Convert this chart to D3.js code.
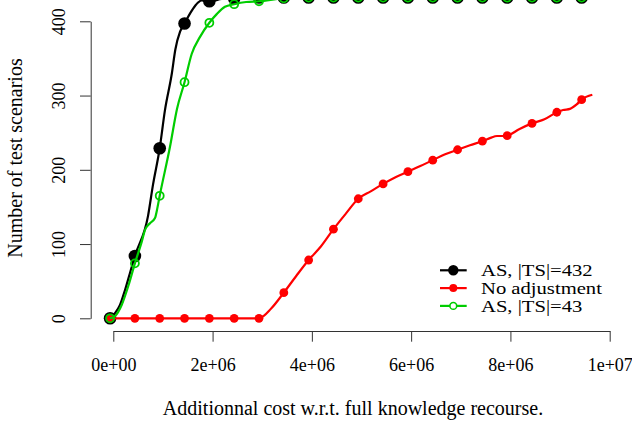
<!DOCTYPE html>
<html>
<head>
<meta charset="utf-8">
<script src="https://cdn.jsdelivr.net/npm/d3@7"></script>
<style>
  html, body { margin: 0; padding: 0; background: #fff; }
  svg { display: block; }
  text { font-family: "Liberation Serif", "Times New Roman", serif; fill: #000; }
</style>
</head>
<body>
<svg id="chart" width="632" height="421"></svg>
<script>
// ---------- data ----------
const markerX = [-65000, 435000, 935000, 1435000, 1935000, 2435000, 2935000, 3435000, 3935000, 4435000,
                 4935000, 5435000, 5935000, 6435000, 6935000, 7435000, 7935000, 8435000, 8935000, 9435000];
const blackPts = [0, 84, 229, 397, 427, 431, 432, 432, 432, 432, 432, 432, 432, 432, 432, 432, 432, 432, 432, 432];
const redPts   = [0, 0, 0, 0, 0, 0, 0, 34.5, 78.5, 120, 161, 181, 197.5, 213, 227, 238.5, 246, 262.5, 277.5, 294.5];
const greenPts = [0, 74, 165, 318, 398, 423, 427, 431, 432, 432, 432, 432, 432, 432, 432, 432, 432, 432, 432, 432];

// smoothed curves (denser than the markers)
const blackLineX = [-65000, 34000, 135000, 236000, 336000, 435000, 700000, 800000, 935000, 1040000, 1180000,
                    1250000, 1345000, 1435000, 1550000, 1650000, 1780000, 1935000, 2185000, 2435000, 2935000, 9650000];
const blackLineY = [0, 7, 18, 38, 61, 84, 138, 180, 229, 280, 330,
                    362, 386, 397, 411, 421, 428, 427, 430, 431, 432, 432];

const redLineX = [-65000, 2935000, 3185000, 3435000, 3685000, 3935000, 4185000, 4435000, 4685000, 4935000,
                  5185000, 5435000, 5685000, 5935000, 6185000, 6435000, 6685000, 6935000, 7185000, 7435000,
                  7600000, 7730000, 7860000, 7935000, 8185000, 8435000, 8685000, 8935000, 9060000, 9200000,
                  9335000, 9435000, 9650000];
const redLineY = [0, 0, 13.5, 34.5, 57, 78.5, 97, 120, 141, 161,
                  171, 181, 190, 197.5, 205, 213, 221, 227, 233, 238.5,
                  243, 245.5, 245.5, 246, 255, 262.5, 268, 277.5, 280.5, 282,
                  288, 294.5, 301];

const greenLineX = [-65000, 34000, 169000, 302000, 435000, 572000, 639000, 739000, 840000, 880000, 935000,
                    1142000, 1283000, 1435000, 1579000, 1747000, 1935000, 2088000, 2249000, 2435000, 2675000,
                    2935000, 3435000, 3935000, 9650000];
const greenLineY = [0, 3, 18, 43.5, 74, 103, 119, 128, 135, 146, 165,
                    231, 282, 318, 356, 379, 398, 410, 419.5, 423, 426,
                    427, 431, 432, 432];

const xTicks = [0, 2000000, 4000000, 6000000, 8000000, 10000000];
const xTickLabels = ["0e+00", "2e+06", "4e+06", "6e+06", "8e+06", "1e+07"];
const yTicks = [0, 100, 200, 300, 400];
const yTickLabels = ["0", "100", "200", "300", "400"];

const xTitle = "Additionnal cost w.r.t. full knowledge recourse.";
const yTitle = "Number of test scenarios";

const legendLabels = ["AS, |TS|=432", "No adjustment", "AS, |TS|=43"];
const seriesColors = ["#000000", "#ff0000", "#00cd00"];

// ---------- chart ----------
const svg = d3.select("#chart");

const x = d3.scaleLinear().domain([0, 10000000]).range([113.3, 609.7]);
const y = d3.scaleLinear().domain([0, 400]).range([318.3, 21.3]);

const line = d3.line()
  .x(d => x(d[0]))
  .y(d => y(d[1]))
  .curve(d3.curveMonotoneX);

// axes
const xAxis = svg.append("g")
  .attr("transform", "translate(0,331)")
  .call(d3.axisBottom(x).tickValues(xTicks).tickFormat((d, i) => xTickLabels[i])
        .tickSize(10.7).tickSizeOuter(0));
xAxis.selectAll("text")
  .attr("y", 40).attr("dy", 0)
  .style("font-size", "18px")
  .style("font-family", "'Liberation Serif', 'Times New Roman', serif");

const yAxis = svg.append("g")
  .attr("transform", "translate(90.7,0)")
  .call(d3.axisLeft(y).tickValues(yTicks).tickFormat((d, i) => yTickLabels[i])
        .tickSize(10.7).tickSizeOuter(0));
yAxis.selectAll("text")
  .attr("x", 0).attr("y", 0).attr("dy", 0)
  .attr("text-anchor", "middle")
  .attr("transform", "translate(-25.7,0) rotate(-90)")
  .style("font-size", "18px")
  .style("font-family", "'Liberation Serif', 'Times New Roman', serif");

svg.selectAll(".domain, .tick line").attr("stroke", "#333").attr("stroke-width", 1);
svg.selectAll(".tick text").attr("fill", "#000");

// titles
svg.append("text")
  .attr("x", 353).attr("y", 415)
  .attr("text-anchor", "middle")
  .style("font-size", "20px")
  .text(xTitle);

svg.append("text")
  .attr("transform", "translate(21.7,158) rotate(-90)")
  .attr("text-anchor", "middle")
  .style("font-size", "20px")
  .text(yTitle);

// series
const zip = (xs, ys) => xs.map((v, i) => [v, ys[i]]);

// black
svg.append("path").datum(zip(blackLineX, blackLineY))
  .attr("d", line).attr("fill", "none").attr("stroke", seriesColors[0]).attr("stroke-width", 2.2);
svg.append("g").selectAll("circle").data(zip(markerX, blackPts)).join("circle")
  .attr("cx", d => x(d[0])).attr("cy", d => y(d[1])).attr("r", 6.3)
  .attr("fill", seriesColors[0]);

// red
svg.append("path").datum(zip(redLineX, redLineY))
  .attr("d", line).attr("fill", "none").attr("stroke", seriesColors[1]).attr("stroke-width", 2.2);
svg.append("g").selectAll("circle").data(zip(markerX, redPts)).join("circle")
  .attr("cx", d => x(d[0])).attr("cy", d => y(d[1])).attr("r", 4.4)
  .attr("fill", seriesColors[1]);

// green
svg.append("path").datum(zip(greenLineX, greenLineY))
  .attr("d", line).attr("fill", "none").attr("stroke", seriesColors[2]).attr("stroke-width", 2.2);
svg.append("g").selectAll("circle").data(zip(markerX, greenPts)).join("circle")
  .attr("cx", d => x(d[0])).attr("cy", d => y(d[1])).attr("r", 4.0)
  .attr("fill", "none").attr("stroke", seriesColors[2]).attr("stroke-width", 1.8);

// legend (wide serif face, as in the reference)
const legendRowY = [270.3, 288.1, 305.9];
const lg = svg.append("g");
legendLabels.forEach((lab, i) => {
  const cy = legendRowY[i];
  lg.append("line").attr("x1", 440).attr("x2", 466.7).attr("y1", cy).attr("y2", cy)
    .attr("stroke", seriesColors[i]).attr("stroke-width", 2.2);
  const c = lg.append("circle").attr("cx", 453.3).attr("cy", cy);
  if (i === 0) c.attr("r", 5.2).attr("fill", seriesColors[i]);
  else if (i === 1) c.attr("r", 4.0).attr("fill", seriesColors[i]);
  else c.attr("r", 3.4).attr("fill", "#fff").attr("stroke", seriesColors[i]).attr("stroke-width", 1.6);
  lg.append("text")
    .attr("transform", `translate(481,${cy + 5.6}) scale(1.29,1)`)
    .style("font-size", "16px").text(lab);
});
</script>
</body>
</html>
